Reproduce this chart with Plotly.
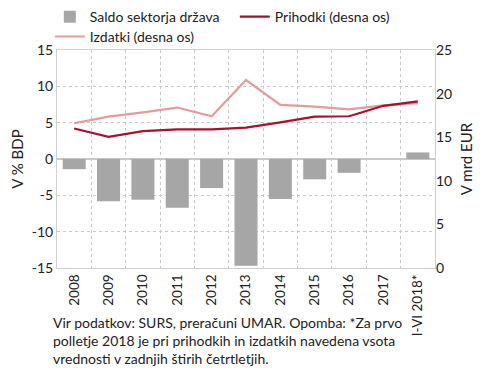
import plotly.graph_objects as go

categories = ["2008", "2009", "2010", "2011", "2012", "2013", "2014", "2015", "2016", "2017", "I-VI 2018*"]
saldo = [-1.4, -5.8, -5.6, -6.7, -4.0, -14.7, -5.5, -2.8, -1.9, 0.0, 0.9]
prihodki = [16.0, 15.05, 15.7, 15.9, 15.9, 16.1, 16.7, 17.35, 17.4, 18.6, 19.1]
izdatki = [16.6, 17.35, 17.85, 18.4, 17.4, 21.55, 18.7, 18.5, 18.2, 18.65, 18.9]

left_ticks = [-15, -10, -5, 0, 5, 10, 15]
right_ticks = [0, 5, 10, 15, 20, 25]

FONT = "Lato"
fig = go.Figure()
fig.add_trace(go.Bar(x=categories, y=saldo, name="Saldo sektorja država",
                     marker=dict(color="#a6a6a6", line=dict(width=0)), yaxis="y",
                     legend="legend", legendrank=1))
fig.add_trace(go.Scatter(x=categories, y=izdatki, name="Izdatki (desna os)", mode="lines",
                         line=dict(color="#e59a9c", width=2.2), yaxis="y2",
                         legend="legend2", legendrank=3))
fig.add_trace(go.Scatter(x=categories, y=prihodki, name="Prihodki (desna os)", mode="lines",
                         line=dict(color="#a8102e", width=2.2), yaxis="y2",
                         legend="legend", legendrank=2))

legend_common = dict(orientation="h", xanchor="left", yanchor="middle",
                     font=dict(size=14), traceorder="normal", itemwidth=30,
                     bgcolor="rgba(0,0,0,0)")

# page body has an 8px default margin, so the figure is sized/placed to compensate
fig.update_layout(
    width=482, height=374,
    margin=dict(l=49, r=55, t=42, b=114, autoexpand=False),
    paper_bgcolor="white", plot_bgcolor="white",
    font=dict(family=FONT, size=14, color="#222"),
    bargap=0.33,
    showlegend=True,
    legend=dict(x=-0.019, y=1.151, entrywidth=140, entrywidthmode="pixels", **legend_common),
    legend2=dict(x=-0.019, y=1.06, **legend_common),
    xaxis=dict(type="category", tickson="boundaries", showgrid=True, automargin=False,
               gridcolor="#c8c8c8", griddash="dot", gridwidth=1,
               tickangle=-90, ticks="", showline=True, linecolor="#d0d0d0", mirror=True,
               tickfont=dict(size=13.5)),
    yaxis=dict(range=[-15, 15], tickvals=left_ticks, ticktext=[str(v) for v in left_ticks],
               showgrid=True, gridcolor="#c8c8c8", griddash="dot", gridwidth=1, automargin=False,
               zeroline=True, zerolinecolor="#c8c8c8", zerolinewidth=1.5,
               showline=True, linecolor="#d0d0d0", mirror=True, ticks="",
               title=dict(text="V % BDP", standoff=8, font=dict(size=15)), tickfont=dict(size=14)),
    yaxis2=dict(range=[0, 25], tickvals=right_ticks, ticktext=[str(v) for v in right_ticks],
                overlaying="y", side="right", showgrid=False, zeroline=False, ticks="", automargin=False,
                title=dict(text="V mrd EUR", standoff=10, font=dict(size=15)), tickfont=dict(size=14)),
)

fig.add_annotation(
    text="Vir podatkov: SURS, preračuni UMAR. Opomba: *Za prvo<br>polletje 2018 je pri prihodkih in izdatkih navedena vsota<br>vrednosti v zadnjih štirih četrtletjih.",
    xref="paper", yref="paper", x=-0.015, y=-0.2, xanchor="left", yanchor="top",
    align="left", showarrow=False, font=dict(size=14, family=FONT, color="#222"))

fig.write_html("out.html")
